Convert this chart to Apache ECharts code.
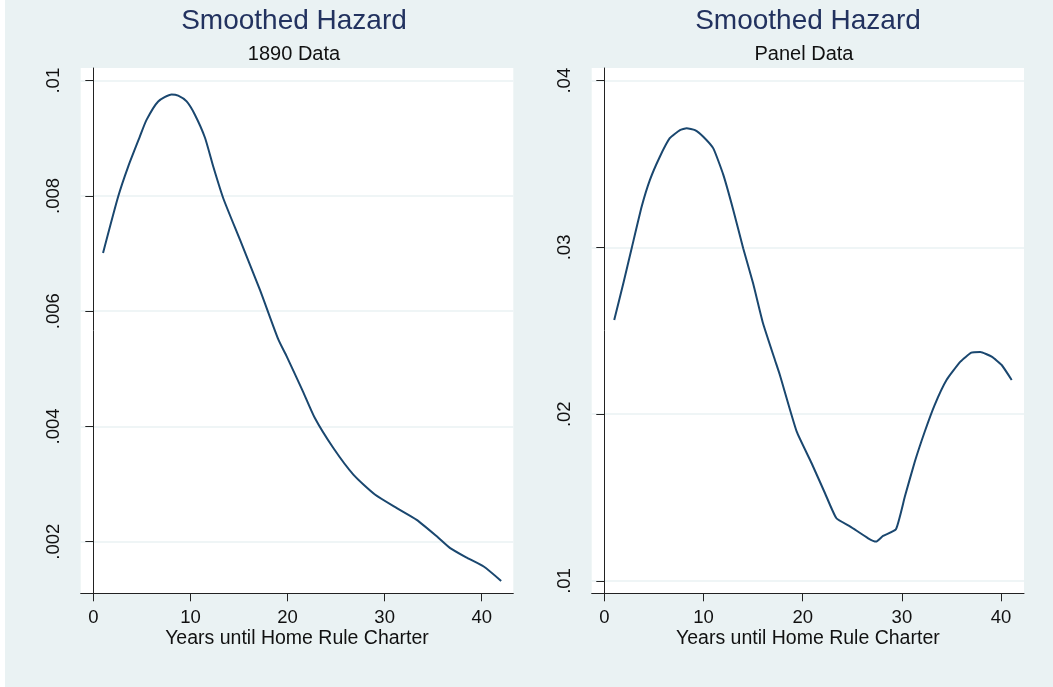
<!DOCTYPE html>
<html>
<head>
<meta charset="utf-8">
<script src="https://cdn.jsdelivr.net/npm/echarts@6/dist/echarts.min.js"></script>
<style>
  html, body { margin: 0; padding: 0; background: #eaf2f3; }
  #main { width: 1053px; height: 687px; }
</style>
</head>
<body>
<div id="main"></div>
<script>
// 1890 data: smoothed hazard
var yearsLeft = [1, 2.56, 3.59, 4.79, 5.48, 6.68, 8.06, 8.74, 9.61, 10.46, 11.5, 12.35, 13.38, 15.1,
    17.16, 19.05, 19.9, 21.5, 22.8, 24.7, 26.8, 29, 31.3, 33.3, 35.4, 36.75, 38.5, 40.2, 42];
var hazardLeft = [.00701, .00799, .00851, .00903, .00932, .00964, .00976, .00974, .00964, .00941, .00901, .00851, .00796, .00724,
    .00637, .00551, .00522, .00464, .00415, .00363, .00316, .00282, .00258, .00238, .00209, .00189, .00172, .00157, .00132];

// Panel data: smoothed hazard
var yearsRight = [1, 1.92, 2.76, 3.77, 4.6, 5.6, 6.6, 7.63, 8.3, 9.14, 9.98, 10.99, 12, 13, 14, 15, 16, 17.2,
    17.7, 19.4, 20.9, 22.25, 23.4, 24.8, 26.6, 27.4, 28.1, 29.4, 30.3, 31.3, 32.3, 33.3, 34.5, 35.9,
    37, 37.9, 39.05, 40.06, 41.07];
var hazardRight = [.02565, .02785, .02995, .03245, .03405, .03544, .03655, .03704, .03715, .03704, .03664, .03594, .03435, .03225, .02995, .02785, .02545, .02325,
    .02235, .01895, .01706, .01526, .01376, .01326, .01256, .01236, .0127, .0131, .01506, .01715, .01895, .02055, .02205, .02315,
    .02369, .02373, .02345, .02295, .02205];

var xTicks = [0, 10, 20, 30, 40];
var yTicksLeft = [.002, .004, .006, .008, .01];
var yTicksRight = [.01, .02, .03, .04];

var titles = ['Smoothed Hazard', 'Smoothed Hazard'];
var subtitles = ['1890 Data', 'Panel Data'];
var xTitle = 'Years until Home Rule Charter';

var FONT = '"Liberation Sans", Arial, Helvetica, sans-serif';
var LINE = '#1a476f';
var GRID = '#eaf2f3';
var AXIS = '#222';

function pairs(xs, ys) {
    var out = [];
    for (var i = 0; i < xs.length; i++) out.push([xs[i], ys[i]]);
    return out;
}

function stripZero(v) {
    return String(v).replace(/^0\./, '.');
}

function xAxisFor(idx, min, max) {
    return {
        type: 'value',
        gridIndex: idx,
        min: min,
        max: max,
        axisLine: { show: true, onZero: false, lineStyle: { color: AXIS, width: 1 } },
        axisTick: { show: true, customValues: xTicks, length: 8, lineStyle: { color: AXIS } },
        axisLabel: { customValues: xTicks, fontSize: 18.5, fontFamily: FONT, color: '#111', margin: 15 },
        splitLine: { show: false },
        name: xTitle,
        nameLocation: 'middle',
        nameGap: 35,
        nameMoveOverlap: false,
        nameTextStyle: { fontSize: 19.5, fontFamily: FONT, color: '#111' }
    };
}

function yAxisFor(idx, min, max, ticks) {
    return {
        type: 'value',
        gridIndex: idx,
        min: min,
        max: max,
        axisLine: { show: true, lineStyle: { color: AXIS, width: 1 } },
        axisTick: { show: true, customValues: ticks, length: 8, lineStyle: { color: AXIS } },
        axisLabel: {
            customValues: ticks, rotate: 90, fontSize: 18.5, fontFamily: FONT, color: '#111', margin: 17,
            formatter: stripZero
        },
        splitLine: { show: true, lineStyle: { color: GRID, width: 1.5 } }
    };
}

var myChart = echarts.init(document.getElementById('main'), null, { renderer: 'canvas' });

option = {
    backgroundColor: '#eaf2f3',
    animation: false,
    grid: [
        { left: 80.7, top: 68, width: 432.6, height: 525.3, show: true, backgroundColor: '#fff', borderWidth: 0 },
        { left: 591.7, top: 68, width: 432.3, height: 525.3, show: true, backgroundColor: '#fff', borderWidth: 0 }
    ],
    xAxis: [
        xAxisFor(0, -1.3, 43.25),
        xAxisFor(1, -1.27, 42.31)
    ],
    yAxis: [
        yAxisFor(0, .001105, .01022, yTicksLeft),
        yAxisFor(1, .00926, .04076, yTicksRight)
    ],
    graphic: [
        { type: 'rect', left: 0, top: 0, shape: { width: 5, height: 687 }, style: { fill: '#fff' }, silent: true },
        { type: 'text', x: 294, y: 21, style: { text: titles[0], textAlign: 'center', textVerticalAlign: 'middle', font: '28px ' + FONT, fill: '#22325f' } },
        { type: 'text', x: 294, y: 54, style: { text: subtitles[0], textAlign: 'center', textVerticalAlign: 'middle', font: '20px ' + FONT, fill: '#111' } },
        { type: 'text', x: 808, y: 21, style: { text: titles[1], textAlign: 'center', textVerticalAlign: 'middle', font: '28px ' + FONT, fill: '#22325f' } },
        { type: 'text', x: 804, y: 54, style: { text: subtitles[1], textAlign: 'center', textVerticalAlign: 'middle', font: '20px ' + FONT, fill: '#111' } }
    ],
    series: [
        {
            name: '1890 Data',
            type: 'line',
            xAxisIndex: 0,
            yAxisIndex: 0,
            showSymbol: false,
            smooth: 0.2,
            lineStyle: { color: LINE, width: 2 },
            data: pairs(yearsLeft, hazardLeft)
        },
        {
            name: 'Panel Data',
            type: 'line',
            xAxisIndex: 1,
            yAxisIndex: 1,
            showSymbol: false,
            smooth: 0.15,
            lineStyle: { color: LINE, width: 2 },
            data: pairs(yearsRight, hazardRight)
        }
    ]
};

if (option && typeof option === "object") {
    myChart.setOption(option, true);
}
</script>
</body>
</html>
